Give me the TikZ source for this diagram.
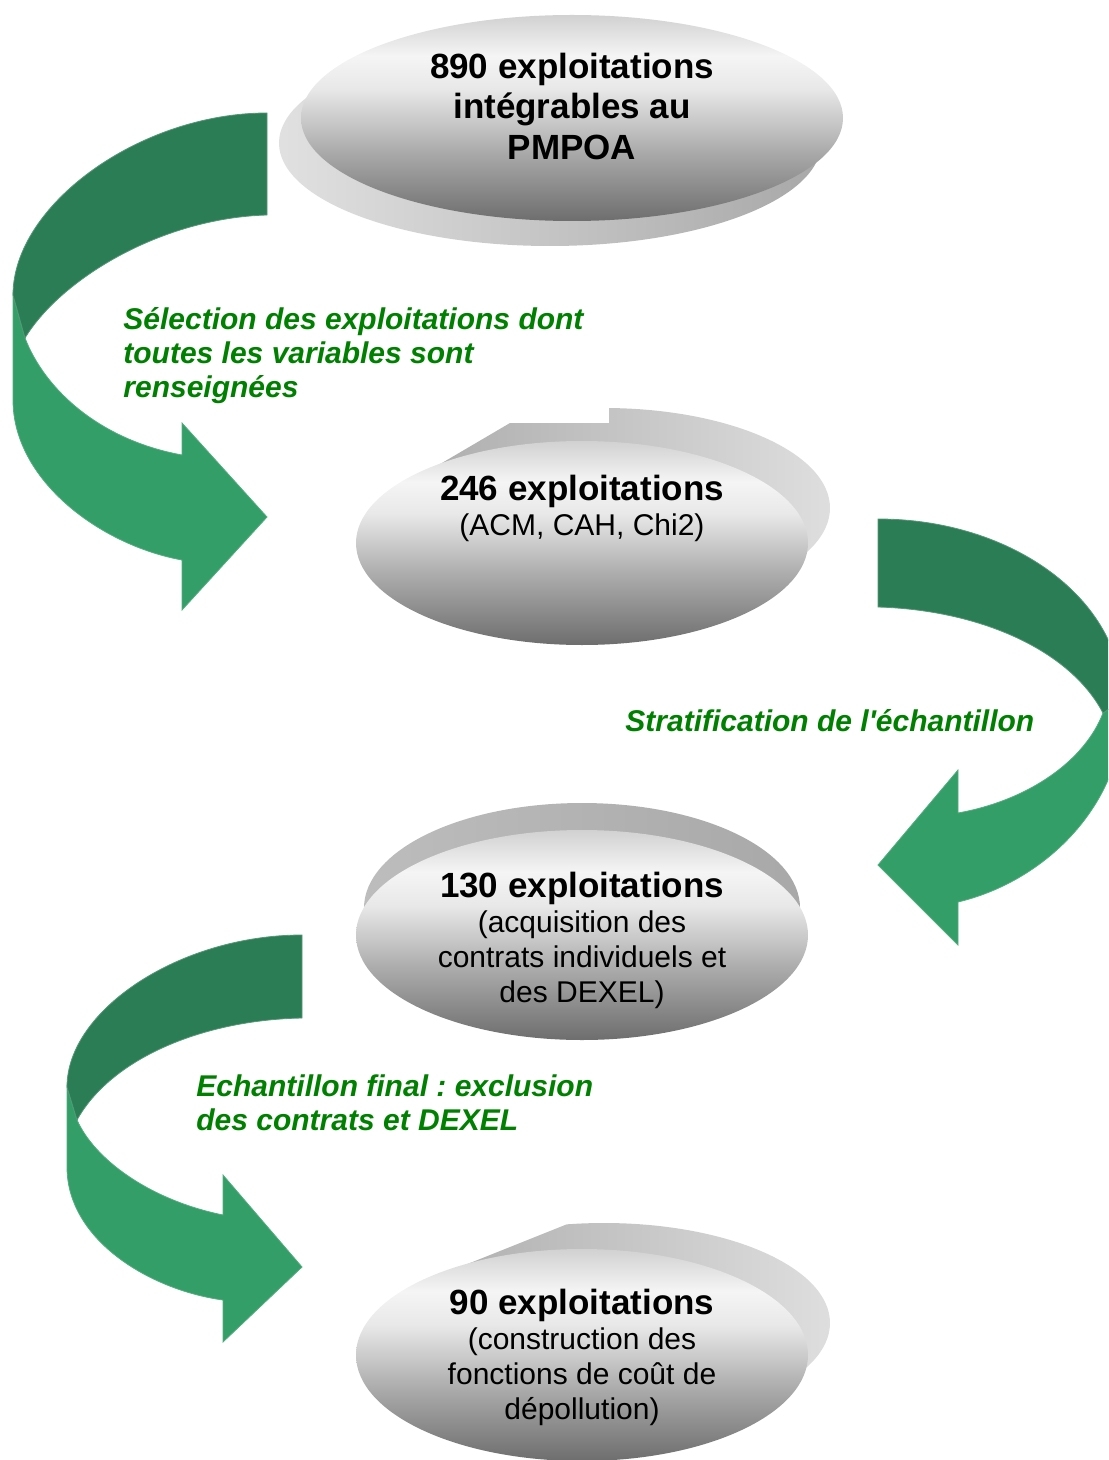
\documentclass[tikz,border=0pt]{standalone}
\usepackage{fontspec}
\setmainfont{Liberation Sans}[Ligatures=TeXOff]
\definecolor{ribbondark}{HTML}{2A7D55}
\definecolor{ribbonlight}{HTML}{349E68}
\definecolor{labelgreen}{HTML}{008000}
\pgfdeclareverticalshading{ovalface}{100bp}{color(0bp)=(black!57); color(25bp)=(black!57); color(42bp)=(black!33); color(57bp)=(black!9); color(65bp)=(black!4); color(75bp)=(black!18); color(100bp)=(black!18)}
\newcommand{\stepbold}{\fontsize{17.5}{17.5}\selectfont\bfseries}
\tikzset{
  face/.style={shading=ovalface},
  steptitle/.style={inner sep=0pt, align=center, font=\fontsize{17.5}{20.25}\selectfont\bfseries},
  steptext/.style={inner sep=0pt, align=center, font=\fontsize{15}{17.5}\selectfont},
  steplabel/.style={inner sep=0pt, align=left, text=labelgreen, font=\fontsize{15}{17}\selectfont\bfseries\itshape},
  backribbon/.style={fill=ribbondark, draw=ribbondark!80!white, line width=0.4pt},
  frontribbon/.style={fill=ribbonlight, draw=ribbonlight!85!white, line width=0.4pt}
}

\begin{document}
\frenchspacing
\begin{tikzpicture}[x=0.5pt, y=-0.5pt]
    \useasboundingbox (0,0) rectangle (1108,1460);
    \clip (0,0) rectangle (1108,1460);

    \shade [left color=black!12, right color=black!34] (550,143) ellipse [x radius=271, y radius=103];
    \shade [face] (572,118) ellipse [x radius=271, y radius=103];
    \node [steptitle] (n890) at (572,106) {890 exploitations\\intégrables au\\PMPOA};

    \begin{scope}
        \clip (300,700) -- (300,560) -- (430,470) -- (510,423) -- (609,423) -- (609,380) -- (900,380) -- (900,700) -- cycle;
        \shade [left color=black!34, right color=black!13] (604,508) ellipse [x radius=226, y radius=100];
    \end{scope}
    \shade [face] (582,543) ellipse [x radius=226, y radius=102];
    \node [steptext] (n246) at (582,508) {{\stepbold 246 exploitations}\\(ACM, CAH, Chi2)};

    \shade [left color=black!26, right color=black!34] (582,908) ellipse [x radius=218, y radius=105];
    \shade [face] (582,935) ellipse [x radius=226, y radius=105];
    \node [steptext] (n130) at (582,940) {{\stepbold 130 exploitations}\\(acquisition des\\contrats individuels et\\des DEXEL)};

    \begin{scope}
        \clip (300,1500) -- (300,1390) -- (440,1275) -- (575,1221) -- (575,1150) -- (900,1150) -- (900,1500) -- cycle;
        \shade [left color=black!34, right color=black!13] (604,1323) ellipse [x radius=226, y radius=100];
    \end{scope}
    \shade [face] (582,1355) ellipse [x radius=226, y radius=106];
    \node [steptext] (n90) at (582,1357) {{\stepbold 90 exploitations}\\(construction des\\fonctions de coût de\\dépollution)};

    \fill [frontribbon] (13,295) -- (13,400) .. controls (13,480) and (100,545) .. (182,560) -- (182,610) -- (267,517) -- (182,423) -- (182,455) .. controls (100,440) and (45,390) .. (25,338) -- cycle;
    \fill [backribbon] (267,113) .. controls (140,113) and (13,205) .. (13,295) -- (25,338) .. controls (60,280) and (160,218) .. (267,215) -- cycle;
    \node [steplabel, anchor=west] (lblsel) at (123,356) {Sélection des exploitations dont\\toutes les variables sont\\renseignées};

    \fill [frontribbon] (1122,700) -- (1122,715) .. controls (1122,800) and (1050,880) .. (958,902) -- (958,945) -- (878,865) -- (958,770) -- (958,813) .. controls (1030,800) and (1085,760) .. (1103,713) -- cycle;
    \fill [backribbon] (878,519) .. controls (1013,519) and (1122,600) .. (1122,700) -- (1103,713) .. controls (1070,650) and (980,610) .. (878,607) -- cycle;
    \node [steplabel, anchor=base west] (lblstrat) at (625,731) {Stratification de l'échantillon};

    \fill [frontribbon] (67,1087) -- (67,1167) .. controls (67,1240) and (150,1290) .. (223,1300) -- (223,1342) -- (302,1267) -- (223,1175) -- (223,1215) .. controls (150,1200) and (95,1160) .. (77,1120) -- cycle;
    \fill [backribbon] (302,935) .. controls (180,935) and (67,1010) .. (67,1087) -- (77,1120) .. controls (110,1060) and (200,1020) .. (302,1018) -- cycle;
    \node [steplabel, anchor=west] (lblfinal) at (196,1103) {Echantillon final : exclusion\\des contrats et DEXEL};
\end{tikzpicture}
\end{document}
